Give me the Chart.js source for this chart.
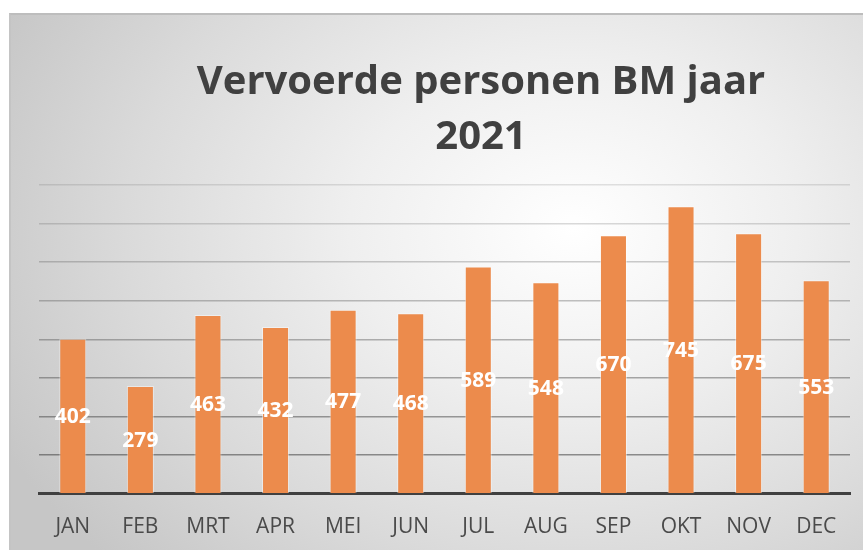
<!DOCTYPE html>
<html>
<head>
<meta charset="utf-8">
<script src="https://cdn.jsdelivr.net/npm/chart.js@4.4.1/dist/chart.umd.min.js"></script>
<style>
  html, body { margin: 0; padding: 0; background: #ffffff; overflow: hidden; }
  #wrap {
    position: absolute; left: 9px; top: 13px; width: 854px; height: 537px;
    box-sizing: border-box;
    border-top: 2px solid #bdbdbd; border-left: 2px solid #c4c4c4;
    background: radial-gradient(ellipse 75% 90% at 66% 40%, #ffffff 0%, #efefef 35%, #dadada 70%, #c6c6c6 100%);
  }
  #wrap canvas { position: absolute; left: 0; top: 0; }
</style>
</head>
<body>
<div id="wrap"><canvas id="chart" width="852" height="540"></canvas></div>
<script>
  'use strict';

  // Dados
  var months = ['JAN', 'FEB', 'MRT', 'APR', 'MEI', 'JUN', 'JUL', 'AUG', 'SEP', 'OKT', 'NOV', 'DEC'];
  var persons = [402, 279, 463, 432, 477, 468, 589, 548, 670, 745, 675, 553];
  var titleLines = ['Vervoerde personen BM jaar', '2021'];
  var yMax = 800;
  var yStep = 100;

  // Título desenhado à mão, um pouco à direita do centro (como no original)
  var titlePlugin = {
    id: 'offsetTitle',
    afterDraw: function(chart) {
      var ctx = chart.ctx;
      ctx.save();
      ctx.fillStyle = '#404040';
      ctx.font = 'bold 40px "Open Sans", sans-serif';
      ctx.textAlign = 'center';
      ctx.textBaseline = 'middle';
      ctx.fillText(titleLines[0], 470, 68);
      ctx.fillText(titleLines[1], 470, 123);
      ctx.restore();
    }
  };

  // Valores brancos no meio de cada barra
  var valueLabels = {
    id: 'valueLabels',
    afterDatasetsDraw: function(chart) {
      var ctx = chart.ctx;
      var meta = chart.getDatasetMeta(0);
      ctx.save();
      ctx.fillStyle = '#ffffff';
      ctx.font = 'bold 21px "Open Sans", sans-serif';
      ctx.textAlign = 'center';
      ctx.textBaseline = 'middle';
      meta.data.forEach(function(bar, i) {
        ctx.fillText(String(persons[i]), bar.x, (bar.y + bar.base) / 2 + 1);
      });
      ctx.restore();
    }
  };

  new Chart(document.getElementById('chart'), {
    type: 'bar',
    data: {
      labels: months,
      datasets: [{
        data: persons,
        backgroundColor: 'rgb(236,139,76)',
        borderColor: 'rgba(255,255,255,0.45)',
        borderWidth: 1,
        borderSkipped: 'bottom',
        barPercentage: 0.4,
        categoryPercentage: 1
      }]
    },
    options: {
      responsive: false,
      animation: false,
      layout: { padding: { left: 28, right: 13, top: 170, bottom: 2 } },
      plugins: {
        legend: { display: false },
        title: { display: false },
        tooltip: { enabled: false }
      },
      scales: {
        x: {
          grid: { display: false },
          border: { display: true, color: '#404040', width: 3 },
          ticks: {
            color: '#4a4a4a',
            padding: 13,
            font: { family: '"Open Sans", sans-serif', size: 21 }
          }
        },
        y: {
          min: 0,
          max: yMax,
          ticks: { display: false, stepSize: yStep },
          border: { display: false },
          grid: {
            lineWidth: 1.5,
            drawTicks: false,
            color: function(c) {
              var v = c.tick ? c.tick.value : 0;
              var a = 0.6 - (v / yMax) * 0.46;
              return 'rgba(60,60,60,' + a.toFixed(3) + ')';
            }
          }
        }
      }
    },
    plugins: [titlePlugin, valueLabels]
  });
</script>
</body>
</html>
